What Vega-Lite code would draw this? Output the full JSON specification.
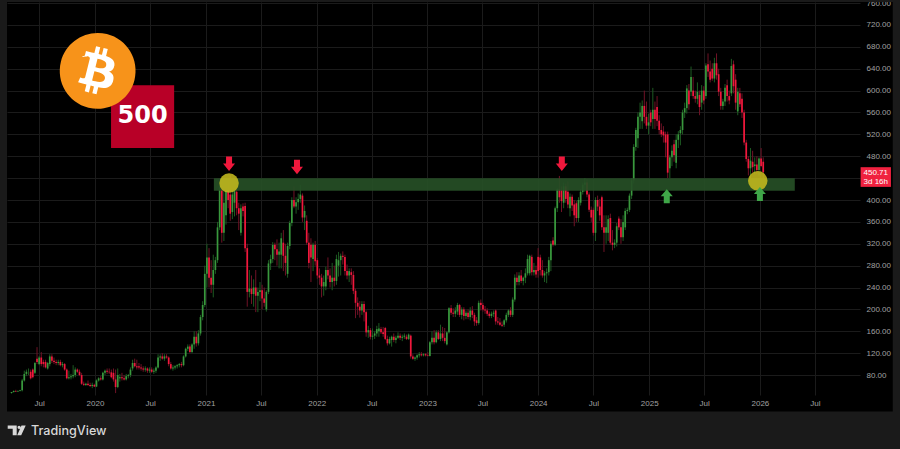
{"$schema":"https://vega.github.io/schema/vega-lite/v6.json","width":853,"height":393,"autosize":{"type":"none"},"padding":{"left":7,"top":2,"right":40,"bottom":54},"background":"#000000","view":{"stroke":null},
"datasets":{"candles":[
{"d":"2019-04-01","o":47,"h":49,"l":46,"c":49},{"d":"2019-04-08","o":49,"h":52,"l":48,"c":51},{"d":"2019-04-15","o":51,"h":53,"l":49,"c":50},{"d":"2019-04-22","o":50,"h":52,"l":49,"c":51},{"d":"2019-04-29","o":51,"h":53,"l":50,"c":52},{"d":"2019-05-06","o":52,"h":73,"l":50,"c":70},{"d":"2019-05-13","o":70,"h":88,"l":68,"c":82},{"d":"2019-05-20","o":82,"h":90,"l":78,"c":86},{"d":"2019-05-27","o":86,"h":92,"l":80,"c":86},{"d":"2019-06-03","o":86,"h":90,"l":72,"c":74},{"d":"2019-06-10","o":90,"h":92,"l":74,"c":76},{"d":"2019-06-17","o":84,"h":104,"l":82,"c":102},{"d":"2019-06-24","o":110,"h":131,"l":100,"c":104},{"d":"2019-07-01","o":100,"h":115,"l":98,"c":112},{"d":"2019-07-08","o":112,"h":122,"l":96,"c":100},{"d":"2019-07-15","o":104,"h":108,"l":94,"c":100},{"d":"2019-07-22","o":104,"h":108,"l":92,"c":94},{"d":"2019-07-29","o":92,"h":104,"l":90,"c":102},{"d":"2019-08-05","o":100,"h":118,"l":96,"c":114},{"d":"2019-08-12","o":114,"h":118,"l":102,"c":106},{"d":"2019-08-19","o":106,"h":112,"l":100,"c":104},{"d":"2019-08-26","o":104,"h":108,"l":98,"c":102},{"d":"2019-09-02","o":102,"h":108,"l":98,"c":104},{"d":"2019-09-09","o":104,"h":108,"l":96,"c":98},{"d":"2019-09-16","o":98,"h":104,"l":94,"c":100},{"d":"2019-09-23","o":100,"h":102,"l":88,"c":90},{"d":"2019-09-30","o":90,"h":92,"l":72,"c":74},{"d":"2019-10-07","o":74,"h":88,"l":72,"c":76},{"d":"2019-10-14","o":76,"h":82,"l":72,"c":78},{"d":"2019-10-21","o":78,"h":98,"l":74,"c":80},{"d":"2019-10-28","o":80,"h":94,"l":76,"c":90},{"d":"2019-11-04","o":90,"h":92,"l":84,"c":86},{"d":"2019-11-11","o":86,"h":90,"l":78,"c":80},{"d":"2019-11-18","o":80,"h":84,"l":62,"c":64},{"d":"2019-11-25","o":64,"h":68,"l":60,"c":62},{"d":"2019-12-02","o":62,"h":66,"l":60,"c":64},{"d":"2019-12-09","o":64,"h":70,"l":60,"c":62},{"d":"2019-12-16","o":62,"h":66,"l":58,"c":60},{"d":"2019-12-23","o":60,"h":66,"l":56,"c":62},{"d":"2019-12-30","o":62,"h":64,"l":58,"c":59},
{"d":"2020-01-06","o":59,"h":72,"l":58,"c":70},{"d":"2020-01-13","o":70,"h":76,"l":68,"c":74},{"d":"2020-01-20","o":74,"h":78,"l":70,"c":72},{"d":"2020-01-27","o":72,"h":86,"l":70,"c":84},{"d":"2020-02-03","o":84,"h":90,"l":80,"c":88},{"d":"2020-02-10","o":88,"h":92,"l":82,"c":86},{"d":"2020-02-17","o":86,"h":92,"l":82,"c":85},{"d":"2020-02-24","o":85,"h":90,"l":74,"c":76},{"d":"2020-03-02","o":84,"h":92,"l":68,"c":72},{"d":"2020-03-09","o":72,"h":90,"l":47,"c":58},{"d":"2020-03-16","o":58,"h":92,"l":56,"c":80},{"d":"2020-03-23","o":74,"h":82,"l":68,"c":76},{"d":"2020-03-30","o":76,"h":84,"l":70,"c":74},{"d":"2020-04-06","o":74,"h":80,"l":70,"c":72},{"d":"2020-04-13","o":72,"h":82,"l":70,"c":78},{"d":"2020-04-20","o":78,"h":82,"l":74,"c":80},{"d":"2020-04-27","o":80,"h":94,"l":76,"c":90},{"d":"2020-05-04","o":92,"h":108,"l":88,"c":102},{"d":"2020-05-11","o":102,"h":110,"l":94,"c":96},{"d":"2020-05-18","o":96,"h":108,"l":90,"c":94},{"d":"2020-05-25","o":96,"h":102,"l":90,"c":94},{"d":"2020-06-01","o":94,"h":100,"l":88,"c":92},{"d":"2020-06-08","o":92,"h":96,"l":86,"c":90},{"d":"2020-06-15","o":90,"h":96,"l":86,"c":92},{"d":"2020-06-22","o":92,"h":94,"l":84,"c":88},{"d":"2020-06-29","o":88,"h":94,"l":84,"c":90},{"d":"2020-07-06","o":90,"h":94,"l":84,"c":86},{"d":"2020-07-13","o":86,"h":92,"l":82,"c":88},{"d":"2020-07-20","o":88,"h":96,"l":84,"c":94},{"d":"2020-07-27","o":94,"h":118,"l":92,"c":112},{"d":"2020-08-03","o":112,"h":118,"l":106,"c":114},{"d":"2020-08-10","o":114,"h":120,"l":108,"c":110},{"d":"2020-08-17","o":110,"h":118,"l":106,"c":114},{"d":"2020-08-24","o":114,"h":118,"l":110,"c":112},{"d":"2020-08-31","o":112,"h":114,"l":96,"c":100},{"d":"2020-09-07","o":100,"h":104,"l":90,"c":92},{"d":"2020-09-14","o":92,"h":98,"l":88,"c":94},{"d":"2020-09-21","o":94,"h":98,"l":90,"c":96},{"d":"2020-09-28","o":96,"h":100,"l":92,"c":98},{"d":"2020-10-05","o":98,"h":102,"l":94,"c":100},{"d":"2020-10-12","o":100,"h":104,"l":94,"c":98},{"d":"2020-10-19","o":98,"h":116,"l":96,"c":114},{"d":"2020-10-26","o":114,"h":130,"l":112,"c":128},{"d":"2020-11-02","o":128,"h":136,"l":124,"c":132},{"d":"2020-11-09","o":132,"h":136,"l":120,"c":122},{"d":"2020-11-16","o":122,"h":138,"l":120,"c":136},{"d":"2020-11-23","o":136,"h":160,"l":128,"c":150},{"d":"2020-11-30","o":150,"h":160,"l":132,"c":138},{"d":"2020-12-07","o":138,"h":162,"l":134,"c":156},{"d":"2020-12-14","o":156,"h":190,"l":152,"c":186},{"d":"2020-12-21","o":186,"h":215,"l":180,"c":208},{"d":"2020-12-28","o":208,"h":280,"l":204,"c":265},
{"d":"2021-01-04","o":265,"h":320,"l":240,"c":295},{"d":"2021-01-11","o":295,"h":312,"l":240,"c":258},{"d":"2021-01-18","o":258,"h":290,"l":230,"c":245},{"d":"2021-01-25","o":245,"h":300,"l":222,"c":272},{"d":"2021-02-01","o":272,"h":296,"l":265,"c":290},{"d":"2021-02-08","o":290,"h":360,"l":285,"c":350},{"d":"2021-02-15","o":350,"h":432,"l":345,"c":425},{"d":"2021-02-22","o":425,"h":432,"l":322,"c":340},{"d":"2021-03-01","o":340,"h":420,"l":325,"c":395},{"d":"2021-03-08","o":372,"h":440,"l":355,"c":418},{"d":"2021-03-15","o":418,"h":432,"l":385,"c":400},{"d":"2021-03-22","o":410,"h":445,"l":362,"c":375},{"d":"2021-03-29","o":378,"h":420,"l":365,"c":410},{"d":"2021-04-05","o":395,"h":425,"l":370,"c":418},{"d":"2021-04-12","o":415,"h":425,"l":372,"c":385},{"d":"2021-04-19","o":385,"h":395,"l":345,"c":375},{"d":"2021-04-26","o":340,"h":392,"l":335,"c":385},{"d":"2021-05-03","o":388,"h":394,"l":370,"c":380},{"d":"2021-05-10","o":389,"h":395,"l":305,"c":312},{"d":"2021-05-17","o":312,"h":320,"l":205,"c":232},{"d":"2021-05-24","o":232,"h":272,"l":222,"c":238},{"d":"2021-05-31","o":238,"h":262,"l":210,"c":228},{"d":"2021-06-07","o":228,"h":255,"l":205,"c":240},{"d":"2021-06-14","o":240,"h":272,"l":195,"c":225},{"d":"2021-06-21","o":225,"h":240,"l":195,"c":232},{"d":"2021-06-28","o":232,"h":250,"l":215,"c":235},{"d":"2021-07-05","o":235,"h":245,"l":200,"c":220},{"d":"2021-07-12","o":220,"h":240,"l":205,"c":212},{"d":"2021-07-19","o":200,"h":235,"l":196,"c":232},{"d":"2021-07-26","o":232,"h":290,"l":228,"c":284},{"d":"2021-08-02","o":284,"h":300,"l":272,"c":292},{"d":"2021-08-09","o":292,"h":323,"l":285,"c":318},{"d":"2021-08-16","o":318,"h":322,"l":290,"c":310},{"d":"2021-08-23","o":310,"h":328,"l":280,"c":300},{"d":"2021-08-30","o":300,"h":322,"l":275,"c":306},{"d":"2021-09-06","o":300,"h":340,"l":275,"c":330},{"d":"2021-09-13","o":322,"h":345,"l":270,"c":298},{"d":"2021-09-20","o":298,"h":320,"l":262,"c":285},{"d":"2021-09-27","o":265,"h":322,"l":258,"c":316},{"d":"2021-10-04","o":316,"h":362,"l":310,"c":358},{"d":"2021-10-11","o":358,"h":405,"l":352,"c":400},{"d":"2021-10-18","o":400,"h":425,"l":385,"c":388},{"d":"2021-10-25","o":388,"h":405,"l":375,"c":396},{"d":"2021-11-01","o":396,"h":412,"l":382,"c":402},{"d":"2021-11-08","o":402,"h":428,"l":395,"c":410},{"d":"2021-11-15","o":408,"h":412,"l":360,"c":368},{"d":"2021-11-22","o":368,"h":390,"l":345,"c":380},{"d":"2021-11-29","o":362,"h":372,"l":318,"c":322},{"d":"2021-12-06","o":322,"h":340,"l":275,"c":285},{"d":"2021-12-13","o":318,"h":330,"l":250,"c":295},{"d":"2021-12-20","o":292,"h":322,"l":270,"c":318},{"d":"2021-12-27","o":318,"h":325,"l":280,"c":288},
{"d":"2022-01-03","o":290,"h":294,"l":256,"c":262},{"d":"2022-01-10","o":262,"h":275,"l":245,"c":258},{"d":"2022-01-17","o":258,"h":265,"l":222,"c":242},{"d":"2022-01-24","o":242,"h":262,"l":225,"c":250},{"d":"2022-01-31","o":242,"h":278,"l":235,"c":272},{"d":"2022-02-07","o":272,"h":295,"l":255,"c":262},{"d":"2022-02-14","o":262,"h":275,"l":240,"c":250},{"d":"2022-02-21","o":250,"h":285,"l":235,"c":258},{"d":"2022-02-28","o":258,"h":280,"l":242,"c":252},{"d":"2022-03-07","o":252,"h":300,"l":245,"c":292},{"d":"2022-03-14","o":280,"h":305,"l":260,"c":290},{"d":"2022-03-21","o":290,"h":302,"l":262,"c":298},{"d":"2022-03-28","o":298,"h":306,"l":282,"c":296},{"d":"2022-04-04","o":296,"h":300,"l":262,"c":270},{"d":"2022-04-11","o":270,"h":282,"l":255,"c":262},{"d":"2022-04-18","o":262,"h":275,"l":250,"c":270},{"d":"2022-04-25","o":268,"h":275,"l":245,"c":263},{"d":"2022-05-02","o":263,"h":270,"l":228,"c":234},{"d":"2022-05-09","o":234,"h":238,"l":184,"c":212},{"d":"2022-05-16","o":212,"h":222,"l":190,"c":205},{"d":"2022-05-23","o":205,"h":215,"l":185,"c":198},{"d":"2022-05-30","o":198,"h":215,"l":190,"c":210},{"d":"2022-06-06","o":210,"h":215,"l":178,"c":195},{"d":"2022-06-13","o":195,"h":198,"l":150,"c":158},{"d":"2022-06-20","o":158,"h":170,"l":148,"c":162},{"d":"2022-06-27","o":162,"h":166,"l":145,"c":150},{"d":"2022-07-04","o":150,"h":165,"l":144,"c":152},{"d":"2022-07-11","o":152,"h":160,"l":146,"c":156},{"d":"2022-07-18","o":156,"h":170,"l":150,"c":164},{"d":"2022-07-25","o":160,"h":175,"l":150,"c":165},{"d":"2022-08-01","o":164,"h":168,"l":155,"c":158},{"d":"2022-08-08","o":158,"h":168,"l":150,"c":155},{"d":"2022-08-15","o":166,"h":168,"l":144,"c":146},{"d":"2022-08-22","o":146,"h":152,"l":134,"c":138},{"d":"2022-08-29","o":138,"h":150,"l":136,"c":146},{"d":"2022-09-05","o":144,"h":152,"l":132,"c":150},{"d":"2022-09-12","o":150,"h":156,"l":140,"c":144},{"d":"2022-09-19","o":144,"h":152,"l":138,"c":148},{"d":"2022-09-26","o":148,"h":158,"l":146,"c":152},{"d":"2022-10-03","o":152,"h":156,"l":144,"c":148},{"d":"2022-10-10","o":148,"h":154,"l":142,"c":150},{"d":"2022-10-17","o":150,"h":156,"l":146,"c":152},{"d":"2022-10-24","o":150,"h":154,"l":144,"c":146},{"d":"2022-10-31","o":146,"h":156,"l":144,"c":154},{"d":"2022-11-07","o":152,"h":154,"l":110,"c":114},{"d":"2022-11-14","o":114,"h":118,"l":108,"c":110},{"d":"2022-11-21","o":110,"h":114,"l":106,"c":112},{"d":"2022-11-28","o":112,"h":118,"l":108,"c":116},{"d":"2022-12-05","o":116,"h":122,"l":112,"c":118},{"d":"2022-12-12","o":118,"h":122,"l":114,"c":116},{"d":"2022-12-19","o":116,"h":120,"l":114,"c":118},{"d":"2022-12-26","o":118,"h":120,"l":114,"c":116},
{"d":"2023-01-02","o":116,"h":122,"l":114,"c":115},{"d":"2023-01-09","o":115,"h":142,"l":114,"c":140},{"d":"2023-01-16","o":140,"h":160,"l":136,"c":148},{"d":"2023-01-23","o":148,"h":162,"l":136,"c":140},{"d":"2023-01-30","o":140,"h":162,"l":138,"c":158},{"d":"2023-02-06","o":158,"h":162,"l":144,"c":146},{"d":"2023-02-13","o":146,"h":172,"l":142,"c":156},{"d":"2023-02-20","o":156,"h":168,"l":142,"c":148},{"d":"2023-02-27","o":148,"h":166,"l":138,"c":142},{"d":"2023-03-06","o":136,"h":160,"l":134,"c":158},{"d":"2023-03-13","o":158,"h":204,"l":156,"c":202},{"d":"2023-03-20","o":202,"h":208,"l":190,"c":194},{"d":"2023-03-27","o":194,"h":202,"l":186,"c":192},{"d":"2023-04-03","o":192,"h":204,"l":186,"c":198},{"d":"2023-04-10","o":196,"h":212,"l":190,"c":208},{"d":"2023-04-17","o":208,"h":210,"l":186,"c":190},{"d":"2023-04-24","o":190,"h":204,"l":182,"c":200},{"d":"2023-05-01","o":200,"h":204,"l":180,"c":188},{"d":"2023-05-08","o":188,"h":198,"l":182,"c":194},{"d":"2023-05-15","o":194,"h":200,"l":182,"c":186},{"d":"2023-05-22","o":186,"h":204,"l":180,"c":198},{"d":"2023-05-29","o":198,"h":206,"l":184,"c":190},{"d":"2023-06-05","o":190,"h":194,"l":170,"c":178},{"d":"2023-06-12","o":180,"h":186,"l":170,"c":175},{"d":"2023-06-19","o":175,"h":216,"l":172,"c":212},{"d":"2023-06-26","o":212,"h":218,"l":198,"c":208},{"d":"2023-07-03","o":208,"h":212,"l":196,"c":200},{"d":"2023-07-10","o":200,"h":206,"l":192,"c":198},{"d":"2023-07-17","o":198,"h":202,"l":188,"c":192},{"d":"2023-07-24","o":192,"h":196,"l":184,"c":188},{"d":"2023-07-31","o":188,"h":196,"l":184,"c":192},{"d":"2023-08-07","o":192,"h":198,"l":186,"c":194},{"d":"2023-08-14","o":198,"h":200,"l":172,"c":178},{"d":"2023-08-21","o":178,"h":186,"l":172,"c":176},{"d":"2023-08-28","o":176,"h":184,"l":170,"c":172},{"d":"2023-09-04","o":172,"h":178,"l":168,"c":170},{"d":"2023-09-11","o":172,"h":182,"l":168,"c":180},{"d":"2023-09-18","o":180,"h":194,"l":176,"c":190},{"d":"2023-09-25","o":190,"h":200,"l":186,"c":198},{"d":"2023-10-02","o":198,"h":204,"l":186,"c":190},{"d":"2023-10-09","o":190,"h":222,"l":186,"c":218},{"d":"2023-10-16","o":218,"h":264,"l":214,"c":258},{"d":"2023-10-23","o":258,"h":268,"l":244,"c":250},{"d":"2023-10-30","o":250,"h":268,"l":244,"c":262},{"d":"2023-11-06","o":262,"h":272,"l":248,"c":252},{"d":"2023-11-13","o":252,"h":260,"l":244,"c":258},{"d":"2023-11-20","o":258,"h":275,"l":248,"c":266},{"d":"2023-11-27","o":266,"h":300,"l":262,"c":292},{"d":"2023-12-04","o":266,"h":300,"l":262,"c":298},{"d":"2023-12-11","o":296,"h":300,"l":262,"c":268},{"d":"2023-12-18","o":268,"h":285,"l":262,"c":272},{"d":"2023-12-25","o":272,"h":280,"l":258,"c":264},
{"d":"2024-01-01","o":296,"h":312,"l":258,"c":270},{"d":"2024-01-08","o":295,"h":300,"l":262,"c":272},{"d":"2024-01-15","o":272,"h":290,"l":258,"c":262},{"d":"2024-01-22","o":262,"h":270,"l":250,"c":266},{"d":"2024-01-29","o":266,"h":275,"l":248,"c":268},{"d":"2024-02-05","o":268,"h":296,"l":262,"c":290},{"d":"2024-02-12","o":290,"h":325,"l":270,"c":320},{"d":"2024-02-19","o":326,"h":332,"l":315,"c":318},{"d":"2024-02-26","o":318,"h":388,"l":316,"c":385},{"d":"2024-03-04","o":385,"h":422,"l":378,"c":420},{"d":"2024-03-11","o":420,"h":444,"l":395,"c":405},{"d":"2024-03-18","o":418,"h":425,"l":378,"c":398},{"d":"2024-03-25","o":395,"h":432,"l":385,"c":425},{"d":"2024-04-01","o":425,"h":430,"l":395,"c":402},{"d":"2024-04-08","o":415,"h":434,"l":385,"c":392},{"d":"2024-04-15","o":385,"h":412,"l":370,"c":406},{"d":"2024-04-22","o":406,"h":410,"l":380,"c":390},{"d":"2024-04-29","o":392,"h":400,"l":352,"c":372},{"d":"2024-05-06","o":394,"h":398,"l":360,"c":367},{"d":"2024-05-13","o":367,"h":405,"l":360,"c":400},{"d":"2024-05-20","o":395,"h":420,"l":390,"c":415},{"d":"2024-05-27","o":415,"h":432,"l":410,"c":428},{"d":"2024-06-03","o":428,"h":440,"l":415,"c":432},{"d":"2024-06-10","o":432,"h":438,"l":405,"c":410},{"d":"2024-06-17","o":410,"h":414,"l":378,"c":382},{"d":"2024-06-24","o":382,"h":388,"l":360,"c":368},{"d":"2024-07-01","o":382,"h":386,"l":335,"c":340},{"d":"2024-07-08","o":340,"h":405,"l":325,"c":400},{"d":"2024-07-15","o":400,"h":408,"l":380,"c":388},{"d":"2024-07-22","o":388,"h":402,"l":362,"c":372},{"d":"2024-07-29","o":405,"h":408,"l":345,"c":350},{"d":"2024-08-05","o":350,"h":372,"l":305,"c":340},{"d":"2024-08-12","o":340,"h":372,"l":320,"c":350},{"d":"2024-08-19","o":340,"h":372,"l":325,"c":365},{"d":"2024-08-26","o":367,"h":375,"l":318,"c":322},{"d":"2024-09-02","o":322,"h":345,"l":308,"c":318},{"d":"2024-09-09","o":318,"h":328,"l":312,"c":322},{"d":"2024-09-16","o":322,"h":358,"l":315,"c":352},{"d":"2024-09-23","o":366,"h":370,"l":345,"c":350},{"d":"2024-09-30","o":350,"h":365,"l":320,"c":332},{"d":"2024-10-07","o":332,"h":372,"l":325,"c":360},{"d":"2024-10-14","o":350,"h":385,"l":345,"c":380},{"d":"2024-10-21","o":380,"h":386,"l":374,"c":382},{"d":"2024-10-28","o":382,"h":412,"l":378,"c":408},{"d":"2024-11-04","o":408,"h":440,"l":402,"c":436},{"d":"2024-11-11","o":436,"h":502,"l":430,"c":497},{"d":"2024-11-18","o":497,"h":532,"l":490,"c":528},{"d":"2024-11-25","o":513,"h":560,"l":495,"c":552},{"d":"2024-12-02","o":552,"h":578,"l":530,"c":560},{"d":"2024-12-09","o":544,"h":582,"l":530,"c":572},{"d":"2024-12-16","o":572,"h":600,"l":540,"c":552},{"d":"2024-12-23","o":552,"h":580,"l":530,"c":536},{"d":"2024-12-30","o":536,"h":558,"l":520,"c":542},
{"d":"2025-01-06","o":560,"h":565,"l":535,"c":542},{"d":"2025-01-13","o":548,"h":605,"l":530,"c":565},{"d":"2025-01-20","o":565,"h":580,"l":530,"c":548},{"d":"2025-01-27","o":570,"h":590,"l":535,"c":545},{"d":"2025-02-03","o":545,"h":555,"l":520,"c":528},{"d":"2025-02-10","o":528,"h":540,"l":515,"c":520},{"d":"2025-02-17","o":525,"h":535,"l":505,"c":518},{"d":"2025-02-24","o":520,"h":525,"l":478,"c":505},{"d":"2025-03-03","o":520,"h":525,"l":440,"c":450},{"d":"2025-03-10","o":458,"h":482,"l":440,"c":478},{"d":"2025-03-17","o":478,"h":500,"l":462,"c":490},{"d":"2025-03-24","o":502,"h":510,"l":470,"c":482},{"d":"2025-03-31","o":468,"h":520,"l":458,"c":510},{"d":"2025-04-07","o":510,"h":526,"l":495,"c":520},{"d":"2025-04-14","o":522,"h":535,"l":500,"c":528},{"d":"2025-04-21","o":528,"h":565,"l":520,"c":560},{"d":"2025-04-28","o":560,"h":578,"l":550,"c":568},{"d":"2025-05-05","o":568,"h":610,"l":558,"c":604},{"d":"2025-05-12","o":600,"h":612,"l":565,"c":575},{"d":"2025-05-19","o":598,"h":644,"l":590,"c":625},{"d":"2025-05-26","o":600,"h":625,"l":585,"c":590},{"d":"2025-06-02","o":590,"h":600,"l":578,"c":585},{"d":"2025-06-09","o":585,"h":615,"l":575,"c":598},{"d":"2025-06-16","o":592,"h":600,"l":555,"c":570},{"d":"2025-06-23","o":578,"h":610,"l":565,"c":600},{"d":"2025-06-30","o":600,"h":608,"l":575,"c":582},{"d":"2025-07-07","o":590,"h":650,"l":585,"c":646},{"d":"2025-07-14","o":648,"h":668,"l":625,"c":635},{"d":"2025-07-21","o":635,"h":655,"l":615,"c":620},{"d":"2025-07-28","o":640,"h":650,"l":618,"c":622},{"d":"2025-08-04","o":622,"h":660,"l":615,"c":650},{"d":"2025-08-11","o":650,"h":668,"l":620,"c":628},{"d":"2025-08-18","o":630,"h":640,"l":590,"c":598},{"d":"2025-08-25","o":598,"h":605,"l":565,"c":572},{"d":"2025-09-01","o":572,"h":585,"l":565,"c":580},{"d":"2025-09-08","o":580,"h":612,"l":572,"c":605},{"d":"2025-09-15","o":610,"h":620,"l":580,"c":590},{"d":"2025-09-22","o":590,"h":600,"l":575,"c":582},{"d":"2025-09-29","o":595,"h":658,"l":590,"c":645},{"d":"2025-10-06","o":648,"h":655,"l":595,"c":608},{"d":"2025-10-13","o":620,"h":630,"l":565,"c":578},{"d":"2025-10-20","o":562,"h":605,"l":555,"c":598},{"d":"2025-10-27","o":595,"h":605,"l":570,"c":575},{"d":"2025-11-03","o":585,"h":595,"l":550,"c":560},{"d":"2025-11-10","o":560,"h":565,"l":500,"c":505},{"d":"2025-11-17","o":505,"h":510,"l":470,"c":475},{"d":"2025-11-24","o":475,"h":480,"l":445,"c":458},{"d":"2025-12-01","o":458,"h":495,"l":440,"c":472},{"d":"2025-12-08","o":470,"h":490,"l":450,"c":460},{"d":"2025-12-15","o":462,"h":478,"l":448,"c":465},{"d":"2025-12-22","o":465,"h":480,"l":448,"c":455},{"d":"2025-12-29","o":455,"h":478,"l":445,"c":476},{"d":"2026-01-05","o":476,"h":495,"l":460,"c":462},{"d":"2026-01-12","o":470,"h":478,"l":440,"c":450.71}
]},
"encoding":{"x":{"field":"d","type":"temporal","title":null,"scale":{"type":"utc","nice":false,"padding":0,"domain":[{"year":2019,"month":3,"date":17,"utc":true},{"year":2026,"month":11,"date":27,"utc":true}]},"axis":{"values":[{"year":2019,"month":7,"date":1,"utc":true},{"year":2020,"month":1,"date":1,"utc":true},{"year":2020,"month":7,"date":1,"utc":true},{"year":2021,"month":1,"date":1,"utc":true},{"year":2021,"month":7,"date":1,"utc":true},{"year":2022,"month":1,"date":1,"utc":true},{"year":2022,"month":7,"date":1,"utc":true},{"year":2023,"month":1,"date":1,"utc":true},{"year":2023,"month":7,"date":1,"utc":true},{"year":2024,"month":1,"date":1,"utc":true},{"year":2024,"month":7,"date":1,"utc":true},{"year":2025,"month":1,"date":1,"utc":true},{"year":2025,"month":7,"date":1,"utc":true},{"year":2026,"month":1,"date":1,"utc":true},{"year":2026,"month":7,"date":1,"utc":true}],"labelExpr":"utcmonth(datum.value)==0?utcFormat(datum.value,'%Y'):'Jul'","tickCount":40,"domain":false,"ticks":false,"grid":true,"gridColor":"#1b1b1b","gridWidth":1,"labelColor":"#a0a0a0","labelFont":"Liberation Sans","labelFontSize":8,"labelPadding":4,"labelFlush":false,"labelOverlap":false}}},
"layer":[
{"data":{"values":[{"d":"2019-02-20","d2":"2019-03-17","p":770,"p2":-60},{"d":"2027-03-15","d2":"2027-04-10","p":770,"p2":-60},{"d":"2019-02-20","d2":"2027-04-10","p":13.3,"p2":-60},{"d":"2019-02-20","d2":"2027-04-10","p":770,"p2":762}]},"mark":{"type":"rect","fill":"#1a1a1a"},"encoding":{"x2":{"field":"d2"},"y":{"field":"p","type":"quantitative","title":null,"scale":{"domain":[43.5,762],"nice":false,"zero":false},"axis":{"values":[80,120,160,200,240,280,320,360,400,440,480,520,560,600,640,680,720,760],"tickCount":40,"labelExpr":"datum.value==440?'':format(datum.value,'.2f')","orient":"right","domain":false,"ticks":false,"grid":true,"gridColor":"#1b1b1b","gridWidth":1,"labelColor":"#a0a0a0","labelFont":"Liberation Sans","labelFontSize":8,"labelPadding":6,"labelAlign":"left","labelOverlap":false,"labelFlush":false}},"y2":{"field":"p2"}}},
{"data":{"name":"candles"},"mark":{"type":"rule","strokeWidth":1},"encoding":{"y":{"field":"h","type":"quantitative","axis":{"orient":"right"},"title":null,"scale":{"domain":[43.5,762],"nice":false,"zero":false}},"y2":{"field":"l"},"color":{"condition":{"test":"datum.c>=datum.o","value":"#1d5a22"},"value":"#701226"}}},
{"data":{"name":"candles"},"mark":{"type":"bar","size":1.7},"encoding":{"y":{"field":"o","type":"quantitative","axis":{"orient":"right"},"title":null,"scale":{"domain":[43.5,762],"nice":false,"zero":false}},"y2":{"field":"c"},"color":{"condition":{"test":"datum.c>=datum.o","value":"#39983d"},"value":"#f0183c"}}},
{"data":{"values":[{"d":"2021-01-27","d2":"2026-04-26","p":440,"p2":417}]},"mark":{"type":"rect","fill":"#264f26","opacity":0.93},"encoding":{"x2":{"field":"d2"},"y":{"field":"p","type":"quantitative","axis":{"orient":"right"},"title":null,"scale":{"domain":[43.5,762],"nice":false,"zero":false}},"y2":{"field":"p2"}}},
{"data":{"values":[{"d":"2021-03-18","p":431},{"d":"2025-12-25","p":435}]},"mark":{"type":"point","filled":true,"fill":"#c4ba1e","opacity":0.88,"size":380,"shape":"circle","strokeWidth":0},"encoding":{"y":{"field":"p","type":"quantitative","axis":{"orient":"right"},"title":null,"scale":{"domain":[43.5,762],"nice":false,"zero":false}}}},
{"data":{"values":[{"d":"2021-03-18","p":466},{"d":"2021-10-28","p":460},{"d":"2024-03-19","p":466}]},"mark":{"type":"point","filled":true,"fill":"#f0183c","opacity":1,"size":4,"strokeWidth":0,"shape":"M-3 -7.5H3V-0.5H6L0 7L-6 -0.5H-3Z"},"encoding":{"y":{"field":"p","type":"quantitative","axis":{"orient":"right"},"title":null,"scale":{"domain":[43.5,762],"nice":false,"zero":false}}}},
{"data":{"values":[{"d":"2025-02-28","p":407},{"d":"2026-01-01","p":411}]},"mark":{"type":"point","filled":true,"fill":"#3fa648","opacity":1,"size":4,"strokeWidth":0,"shape":"M-3 7H3V0H6L0 -7L-6 0H-3Z"},"encoding":{"y":{"field":"p","type":"quantitative","axis":{"orient":"right"},"title":null,"scale":{"domain":[43.5,762],"nice":false,"zero":false}}}},
{"data":{"values":[{"d":"2020-02-23","d2":"2020-09-18","p":610,"p2":495}]},"mark":{"type":"rect","fill":"#b80027"},"encoding":{"x2":{"field":"d2"},"y":{"field":"p","type":"quantitative","axis":{"orient":"right"},"title":null,"scale":{"domain":[43.5,762],"nice":false,"zero":false}},"y2":{"field":"p2"}}},
{"data":{"values":[{"d":"2020-06-06","p":553,"t":"500"}]},"mark":{"type":"text","font":"DejaVu Sans","fontWeight":"bold","fontSize":24,"color":"#ffffff","align":"center","baseline":"middle"},"encoding":{"y":{"field":"p","type":"quantitative","axis":{"orient":"right"},"title":null,"scale":{"domain":[43.5,762],"nice":false,"zero":false}},"text":{"field":"t"}}},
{"data":{"values":[{"d":"2020-01-10","p":636}]},"mark":{"type":"point","filled":true,"fill":"#ffffff","opacity":1,"size":2600,"shape":"circle","strokeWidth":0},"encoding":{"y":{"field":"p","type":"quantitative","axis":{"orient":"right"},"title":null,"scale":{"domain":[43.5,762],"nice":false,"zero":false}}}},
{"data":{"values":[{"d":"2020-01-10","p":636}]},"mark":{"type":"point","filled":true,"fill":"#f7931a","opacity":1,"size":40,"strokeWidth":0,"shape":"M11.638 2.904c-1.602 6.43-8.113 10.34-14.542 8.736C-9.33 10.05-13.244 3.525-11.638-2.895-10.038-9.33-3.525-13.243 2.9-11.642c6.43 1.605 10.342 8.115 8.738 14.548v-.002zm-6.35-4.613c.24-1.59-.974-2.45-2.64-3.03l.54-2.153-1.315-.33-.525 2.107c-.345-.087-.705-.167-1.064-.25l.526-2.127-1.32-.33-.54 2.165c-.285-.067-.565-.132-.84-.2l-1.815-.45-.35 1.407s.975.225.955.236c.535.136.63.486.615.766l-1.477 5.92c-.075.166-.24.406-.614.314.015.02-.96-.24-.96-.24l-.66 1.51 1.71.426.93.242-.54 2.19 1.32.327.54-2.17c.36.1.705.19 1.05.273l-.51 2.154 1.32.33.545-2.19c2.24.427 3.93.257 4.64-1.774.57-1.637-.03-2.58-1.217-3.196.854-.193 1.5-.76 1.68-1.93h.01zm-3.01 4.22c-.404 1.64-3.157.75-4.05.53l.72-2.9c.896.23 3.757.67 3.33 2.37zm.41-4.24c-.37 1.49-2.662.735-3.405.55l.654-2.64c.744.18 3.137.524 2.75 2.084v.006z"},"encoding":{"y":{"field":"p","type":"quantitative","axis":{"orient":"right"},"title":null,"scale":{"domain":[43.5,762],"nice":false,"zero":false}}}},
{"data":{"values":[{"d":"2026-11-29","d2":"2027-03-09","p":460,"p2":424}]},"mark":{"type":"rect","fill":"#f0213f"},"encoding":{"x2":{"field":"d2"},"y":{"field":"p","type":"quantitative","axis":{"orient":"right"},"title":null,"scale":{"domain":[43.5,762],"nice":false,"zero":false}},"y2":{"field":"p2"}}},
{"data":{"values":[{"d":"2027-01-18","p":449,"t":"450.71"},{"d":"2027-01-18","p":433,"t":"3d 16h"}]},"mark":{"type":"text","font":"Liberation Sans","fontSize":8,"color":"#ffffff","align":"center","baseline":"middle"},"encoding":{"y":{"field":"p","type":"quantitative","axis":{"orient":"right"},"title":null,"scale":{"domain":[43.5,762],"nice":false,"zero":false}},"text":{"field":"t"}}},
{"data":{"values":[{"d":"2019-06-04","p":-22,"t":"TradingView"}]},"mark":{"type":"text","font":"Inter","fontWeight":500,"fontSize":12.6,"color":"#d8d8d8","align":"left","baseline":"middle"},"encoding":{"y":{"field":"p","type":"quantitative","axis":{"orient":"right"},"title":null,"scale":{"domain":[43.5,762],"nice":false,"zero":false}},"text":{"field":"t"}}},
{"data":{"values":[{"d":"2019-04-18","p":-21.5}]},"mark":{"type":"point","filled":true,"fill":"#d8d8d8","opacity":1,"size":4,"strokeWidth":0,"shape":"M-9 -5H0V4.7H-4V-1.8H-9ZM2.4 -4.8a1.6 1.6 0 1 0 .01 0ZM4.8 -5H9L4.5 4.7H0.5Z"},"encoding":{"y":{"field":"p","type":"quantitative","axis":{"orient":"right"},"title":null,"scale":{"domain":[43.5,762],"nice":false,"zero":false}}}}
]}
